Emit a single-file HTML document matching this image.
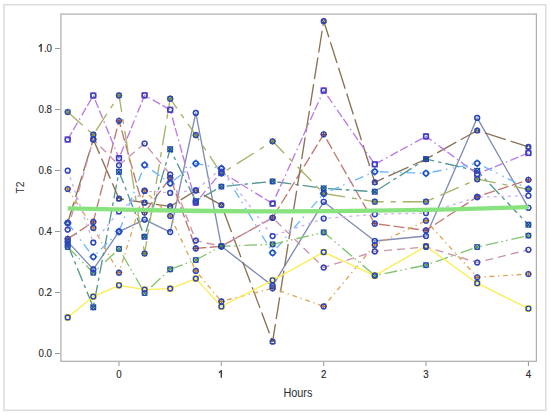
<!DOCTYPE html>
<html><head><meta charset="utf-8"><style>
html,body{margin:0;padding:0;background:#fff;}
body{width:550px;height:415px;position:relative;overflow:hidden;font-family:"Liberation Sans",sans-serif;}
svg text{font-family:"Liberation Sans",sans-serif;}
</style></head><body>
<svg width="550" height="415" viewBox="0 0 550 415" style="position:absolute;left:0;top:0">
<rect x="3.95" y="4.7" width="541.85" height="405.6" fill="#fff" stroke="#dedede" stroke-width="1.6"/>
<rect x="60.9" y="14.1" width="475.5" height="347.2" fill="#fff" stroke="#b0b0b0" stroke-width="1.25"/>
<line x1="55" y1="353.5" x2="60" y2="353.5" stroke="#999" stroke-width="1"/>
<text transform="translate(52,357.4) scale(0.9,1)" text-anchor="end" font-size="10.8" fill="#2a2a2a" stroke="#2a2a2a" stroke-width="0.15">0.0</text>
<line x1="55" y1="292.5" x2="60" y2="292.5" stroke="#999" stroke-width="1"/>
<text transform="translate(52,296.4) scale(0.9,1)" text-anchor="end" font-size="10.8" fill="#2a2a2a" stroke="#2a2a2a" stroke-width="0.15">0.2</text>
<line x1="55" y1="231.5" x2="60" y2="231.5" stroke="#999" stroke-width="1"/>
<text transform="translate(52,235.4) scale(0.9,1)" text-anchor="end" font-size="10.8" fill="#2a2a2a" stroke="#2a2a2a" stroke-width="0.15">0.4</text>
<line x1="55" y1="170.5" x2="60" y2="170.5" stroke="#999" stroke-width="1"/>
<text transform="translate(52,174.4) scale(0.9,1)" text-anchor="end" font-size="10.8" fill="#2a2a2a" stroke="#2a2a2a" stroke-width="0.15">0.6</text>
<line x1="55" y1="109.5" x2="60" y2="109.5" stroke="#999" stroke-width="1"/>
<text transform="translate(52,113.4) scale(0.9,1)" text-anchor="end" font-size="10.8" fill="#2a2a2a" stroke="#2a2a2a" stroke-width="0.15">0.8</text>
<line x1="55" y1="48.5" x2="60" y2="48.5" stroke="#999" stroke-width="1"/>
<text transform="translate(52,52.4) scale(0.9,1)" text-anchor="end" font-size="10.8" fill="#2a2a2a" stroke="#2a2a2a" stroke-width="0.15">.0</text>
<path d="M41.15,44.30V51.75" stroke="#2a2a2a" stroke-width="1.3" fill="none"/><path d="M41.55,44.20L38.85,46.60" stroke="#2a2a2a" stroke-width="1.15" fill="none"/>
<line x1="119.0" y1="361.5" x2="119.0" y2="366" stroke="#999" stroke-width="1"/>
<text transform="translate(119.0,377.7) scale(0.9,1)" text-anchor="middle" font-size="10.8" fill="#2a2a2a" stroke="#2a2a2a" stroke-width="0.15">0</text>
<line x1="221.3" y1="361.5" x2="221.3" y2="366" stroke="#999" stroke-width="1"/>
<path d="M221.25,370.50V377.75" stroke="#2a2a2a" stroke-width="1.3" fill="none"/><path d="M221.65,370.40L218.95,372.80" stroke="#2a2a2a" stroke-width="1.15" fill="none"/>
<line x1="323.7" y1="361.5" x2="323.7" y2="366" stroke="#999" stroke-width="1"/>
<text transform="translate(323.7,377.7) scale(0.9,1)" text-anchor="middle" font-size="10.8" fill="#2a2a2a" stroke="#2a2a2a" stroke-width="0.15">2</text>
<line x1="426.0" y1="361.5" x2="426.0" y2="366" stroke="#999" stroke-width="1"/>
<text transform="translate(426.0,377.7) scale(0.9,1)" text-anchor="middle" font-size="10.8" fill="#2a2a2a" stroke="#2a2a2a" stroke-width="0.15">3</text>
<line x1="528.4" y1="361.5" x2="528.4" y2="366" stroke="#999" stroke-width="1"/>
<text transform="translate(528.4,377.7) scale(0.9,1)" text-anchor="middle" font-size="10.8" fill="#2a2a2a" stroke="#2a2a2a" stroke-width="0.15">4</text>
<text transform="translate(297.9,396.5) scale(0.9,1)" text-anchor="middle" font-size="12.1" fill="#2e2e2e">Hours</text>
<text transform="translate(23.6,187.5) rotate(-90) scale(0.87,1)" text-anchor="middle" font-size="11.8" fill="#2e2e2e">T2</text>
<g fill="none" stroke-width="1.35" stroke-linejoin="round">
<polyline points="67.7,241.6 93.3,269.4 119.0,231.6 144.6,219.6 170.2,232.1 195.8,112.9 221.4,246.3 272.6,285.9 323.7,201.8 374.8,241.0 426.0,236.0 477.2,117.9 528.4,207.8" stroke="#808cb6"/>
<polyline points="67.7,238.9 93.3,221.9 119.0,120.8 144.6,212.5 170.2,177.8 195.8,248.4 221.4,246.3 272.6,217.8 323.7,134.3 374.8,223.7 426.0,230.4 477.2,196.8 528.4,179.8" stroke="#c07971" stroke-dasharray="11 3.5"/>
<polyline points="67.7,244.6 93.3,307.3 119.0,171.8 144.6,236.7 170.2,149.2 195.8,201.0 221.4,186.6 272.6,181.4 323.7,188.3 374.8,191.7 426.0,159.1 477.2,170.8 528.4,224.7" stroke="#529792" stroke-dasharray="14 4 3.5 4"/>
<polyline points="67.7,222.8 93.3,139.4 119.0,198.7 144.6,202.7 170.2,206.4 195.8,190.5 221.4,205.1 272.6,341.7 323.7,21.0 374.8,182.3 426.0,159.1 477.2,130.5 528.4,146.9" stroke="#8b7255" stroke-dasharray="22 5"/>
<polyline points="67.7,139.5 93.3,95.5 119.0,158.2 144.6,95.3 170.2,109.8 195.8,202.6 221.4,172.0 272.6,203.6 323.7,90.5 374.8,164.3 426.0,136.4 477.2,174.0 528.4,153.0" stroke="#bc7ae7" stroke-dasharray="8.5 2.5 8.5 3.5 1.5 3.5"/>
<polyline points="67.7,112.0 93.3,134.7 119.0,95.4 144.6,253.5 170.2,98.7 195.8,135.1 221.4,173.5 272.6,141.3 323.7,193.5 374.8,201.7 426.0,201.7 477.2,179.2 528.4,189.3" stroke="#a8b267" stroke-dasharray="20 7 5 7"/>
<polyline points="67.7,223.0 93.3,256.8 119.0,231.6 144.6,165.0 170.2,183.2 195.8,163.5 221.4,168.5 272.6,252.8 323.7,193.6 374.8,171.6 426.0,173.3 477.2,163.3 528.4,189.0" stroke="#6bb8fc" stroke-dasharray="9 4.5 1.5 5.5 1.5 4.5"/>
<polyline points="67.7,229.6 93.3,139.4 119.0,165.3 144.6,143.5 170.2,174.5 195.8,240.6 221.4,246.3 272.6,217.8 323.7,267.5 374.8,251.4 426.0,247.0 477.2,262.5 528.4,249.8" stroke="#cb93ab" stroke-dasharray="8 5"/>
<polyline points="67.7,189.0 93.3,227.9 119.0,272.7 144.6,190.7 170.2,216.0 195.8,270.9 221.4,301.4 272.6,288.3 323.7,306.4 374.8,245.0 426.0,220.7 477.2,277.3 528.4,274.0" stroke="#e0a352" stroke-dasharray="4.7 3.8 1.3 3.8"/>
<polyline points="67.7,246.9 93.3,272.7 119.0,248.8 144.6,293.0 170.2,269.3 195.8,260.0 221.4,246.3 272.6,244.3 323.7,232.3 374.8,275.6 426.0,265.1 477.2,247.0 528.4,235.6" stroke="#82c46e" stroke-dasharray="12.7 3.3 1.5 3.3 1.5 4"/>
<polyline points="67.7,170.7 93.3,242.6 119.0,211.5 144.6,191.0 170.2,192.9 195.8,190.3 221.4,168.5 272.6,236.1 323.7,218.5 374.8,214.3 426.0,213.1 477.2,197.2 528.4,195.7" stroke="#cbb2f7" stroke-dasharray="3 4"/>
<polyline points="67.7,317.4 93.3,296.6 119.0,285.3 144.6,289.6 170.2,288.6 195.8,278.6 221.4,306.5 272.6,280.3 323.7,252.1 374.8,275.6 426.0,246.2 477.2,283.2 528.4,308.5" stroke="#fbed52"/>
</g>
<g>
<circle cx="67.7" cy="241.6" r="2.6" fill="none" stroke="#445694" stroke-width="1"/>
<circle cx="93.3" cy="269.4" r="2.6" fill="none" stroke="#445694" stroke-width="1"/>
<circle cx="119.0" cy="231.6" r="2.6" fill="none" stroke="#445694" stroke-width="1"/>
<circle cx="144.6" cy="219.6" r="2.6" fill="none" stroke="#445694" stroke-width="1"/>
<circle cx="170.2" cy="232.1" r="2.6" fill="none" stroke="#445694" stroke-width="1"/>
<circle cx="195.8" cy="112.9" r="2.6" fill="none" stroke="#445694" stroke-width="1"/>
<circle cx="221.4" cy="246.3" r="2.6" fill="none" stroke="#445694" stroke-width="1"/>
<circle cx="272.6" cy="285.9" r="2.6" fill="none" stroke="#445694" stroke-width="1"/>
<circle cx="323.7" cy="201.8" r="2.6" fill="none" stroke="#445694" stroke-width="1"/>
<circle cx="374.8" cy="241.0" r="2.6" fill="none" stroke="#445694" stroke-width="1"/>
<circle cx="426.0" cy="236.0" r="2.6" fill="none" stroke="#445694" stroke-width="1"/>
<circle cx="477.2" cy="117.9" r="2.6" fill="none" stroke="#445694" stroke-width="1"/>
<circle cx="528.4" cy="207.8" r="2.6" fill="none" stroke="#445694" stroke-width="1"/>
<path d="M64.4,238.9h6.6M67.7,235.6v6.6" stroke="#A23A2E" stroke-width="1.2" fill="none"/>
<path d="M90.0,221.9h6.6M93.3,218.6v6.6" stroke="#A23A2E" stroke-width="1.2" fill="none"/>
<path d="M115.7,120.8h6.6M119.0,117.5v6.6" stroke="#A23A2E" stroke-width="1.2" fill="none"/>
<path d="M141.3,212.5h6.6M144.6,209.2v6.6" stroke="#A23A2E" stroke-width="1.2" fill="none"/>
<path d="M166.9,177.8h6.6M170.2,174.5v6.6" stroke="#A23A2E" stroke-width="1.2" fill="none"/>
<path d="M192.5,248.4h6.6M195.8,245.1v6.6" stroke="#A23A2E" stroke-width="1.2" fill="none"/>
<path d="M218.1,246.3h6.6M221.4,243.0v6.6" stroke="#A23A2E" stroke-width="1.2" fill="none"/>
<path d="M269.3,217.8h6.6M272.6,214.5v6.6" stroke="#A23A2E" stroke-width="1.2" fill="none"/>
<path d="M320.4,134.3h6.6M323.7,131.0v6.6" stroke="#A23A2E" stroke-width="1.2" fill="none"/>
<path d="M371.5,223.7h6.6M374.8,220.4v6.6" stroke="#A23A2E" stroke-width="1.2" fill="none"/>
<path d="M422.7,230.4h6.6M426.0,227.1v6.6" stroke="#A23A2E" stroke-width="1.2" fill="none"/>
<path d="M473.9,196.8h6.6M477.2,193.5v6.6" stroke="#A23A2E" stroke-width="1.2" fill="none"/>
<path d="M525.1,179.8h6.6M528.4,176.5v6.6" stroke="#A23A2E" stroke-width="1.2" fill="none"/>
<path d="M64.9,241.8l5.6,5.6M64.9,247.4l5.6,-5.6" stroke="#01665E" stroke-width="1.2" fill="none"/>
<path d="M90.5,304.5l5.6,5.6M90.5,310.1l5.6,-5.6" stroke="#01665E" stroke-width="1.2" fill="none"/>
<path d="M116.2,169.0l5.6,5.6M116.2,174.6l5.6,-5.6" stroke="#01665E" stroke-width="1.2" fill="none"/>
<path d="M141.8,233.9l5.6,5.6M141.8,239.5l5.6,-5.6" stroke="#01665E" stroke-width="1.2" fill="none"/>
<path d="M167.4,146.4l5.6,5.6M167.4,152.0l5.6,-5.6" stroke="#01665E" stroke-width="1.2" fill="none"/>
<path d="M193.0,198.2l5.6,5.6M193.0,203.8l5.6,-5.6" stroke="#01665E" stroke-width="1.2" fill="none"/>
<path d="M218.6,183.8l5.6,5.6M218.6,189.4l5.6,-5.6" stroke="#01665E" stroke-width="1.2" fill="none"/>
<path d="M269.8,178.6l5.6,5.6M269.8,184.2l5.6,-5.6" stroke="#01665E" stroke-width="1.2" fill="none"/>
<path d="M320.9,185.5l5.6,5.6M320.9,191.1l5.6,-5.6" stroke="#01665E" stroke-width="1.2" fill="none"/>
<path d="M372.0,188.9l5.6,5.6M372.0,194.5l5.6,-5.6" stroke="#01665E" stroke-width="1.2" fill="none"/>
<path d="M423.2,156.3l5.6,5.6M423.2,161.9l5.6,-5.6" stroke="#01665E" stroke-width="1.2" fill="none"/>
<path d="M474.4,168.0l5.6,5.6M474.4,173.6l5.6,-5.6" stroke="#01665E" stroke-width="1.2" fill="none"/>
<path d="M525.6,221.9l5.6,5.6M525.6,227.5l5.6,-5.6" stroke="#01665E" stroke-width="1.2" fill="none"/>
<path d="M67.7,220.1L70.2,224.7L65.2,224.7Z" stroke="#543005" stroke-width="1" fill="none"/>
<path d="M93.3,136.7L95.8,141.3L90.8,141.3Z" stroke="#543005" stroke-width="1" fill="none"/>
<path d="M119.0,196.0L121.5,200.6L116.5,200.6Z" stroke="#543005" stroke-width="1" fill="none"/>
<path d="M144.6,200.0L147.1,204.6L142.1,204.6Z" stroke="#543005" stroke-width="1" fill="none"/>
<path d="M170.2,203.7L172.7,208.3L167.7,208.3Z" stroke="#543005" stroke-width="1" fill="none"/>
<path d="M195.8,187.8L198.3,192.4L193.3,192.4Z" stroke="#543005" stroke-width="1" fill="none"/>
<path d="M221.4,202.4L223.9,207.0L218.9,207.0Z" stroke="#543005" stroke-width="1" fill="none"/>
<path d="M272.6,339.0L275.1,343.6L270.1,343.6Z" stroke="#543005" stroke-width="1" fill="none"/>
<path d="M323.7,18.3L326.2,22.9L321.2,22.9Z" stroke="#543005" stroke-width="1" fill="none"/>
<path d="M374.8,179.6L377.3,184.2L372.3,184.2Z" stroke="#543005" stroke-width="1" fill="none"/>
<path d="M426.0,156.4L428.5,161.0L423.5,161.0Z" stroke="#543005" stroke-width="1" fill="none"/>
<path d="M477.2,127.8L479.7,132.4L474.7,132.4Z" stroke="#543005" stroke-width="1" fill="none"/>
<path d="M528.4,144.2L530.9,148.8L525.9,148.8Z" stroke="#543005" stroke-width="1" fill="none"/>
<rect x="65.1" y="136.9" width="5.2" height="5.2" stroke="#9D3CDB" stroke-width="1.1" fill="none"/>
<rect x="90.7" y="92.9" width="5.2" height="5.2" stroke="#9D3CDB" stroke-width="1.1" fill="none"/>
<rect x="116.4" y="155.6" width="5.2" height="5.2" stroke="#9D3CDB" stroke-width="1.1" fill="none"/>
<rect x="142.0" y="92.7" width="5.2" height="5.2" stroke="#9D3CDB" stroke-width="1.1" fill="none"/>
<rect x="167.6" y="107.2" width="5.2" height="5.2" stroke="#9D3CDB" stroke-width="1.1" fill="none"/>
<rect x="193.2" y="200.0" width="5.2" height="5.2" stroke="#9D3CDB" stroke-width="1.1" fill="none"/>
<rect x="218.8" y="169.4" width="5.2" height="5.2" stroke="#9D3CDB" stroke-width="1.1" fill="none"/>
<rect x="270.0" y="201.0" width="5.2" height="5.2" stroke="#9D3CDB" stroke-width="1.1" fill="none"/>
<rect x="321.1" y="87.9" width="5.2" height="5.2" stroke="#9D3CDB" stroke-width="1.1" fill="none"/>
<rect x="372.2" y="161.7" width="5.2" height="5.2" stroke="#9D3CDB" stroke-width="1.1" fill="none"/>
<rect x="423.4" y="133.8" width="5.2" height="5.2" stroke="#9D3CDB" stroke-width="1.1" fill="none"/>
<rect x="474.6" y="171.4" width="5.2" height="5.2" stroke="#9D3CDB" stroke-width="1.1" fill="none"/>
<rect x="525.8" y="150.4" width="5.2" height="5.2" stroke="#9D3CDB" stroke-width="1.1" fill="none"/>
<path d="M64.4,112.0h6.6M67.7,108.7v6.6M65.1,109.4l5.3,5.3M65.1,114.6l5.3,-5.3" stroke="#7F8E1F" stroke-width="1" fill="none"/>
<path d="M90.0,134.7h6.6M93.3,131.4v6.6M90.7,132.1l5.3,5.3M90.7,137.3l5.3,-5.3" stroke="#7F8E1F" stroke-width="1" fill="none"/>
<path d="M115.7,95.4h6.6M119.0,92.1v6.6M116.4,92.8l5.3,5.3M116.4,98.0l5.3,-5.3" stroke="#7F8E1F" stroke-width="1" fill="none"/>
<path d="M141.3,253.5h6.6M144.6,250.2v6.6M142.0,250.9l5.3,5.3M142.0,256.1l5.3,-5.3" stroke="#7F8E1F" stroke-width="1" fill="none"/>
<path d="M166.9,98.7h6.6M170.2,95.4v6.6M167.6,96.1l5.3,5.3M167.6,101.3l5.3,-5.3" stroke="#7F8E1F" stroke-width="1" fill="none"/>
<path d="M192.5,135.1h6.6M195.8,131.8v6.6M193.2,132.5l5.3,5.3M193.2,137.7l5.3,-5.3" stroke="#7F8E1F" stroke-width="1" fill="none"/>
<path d="M218.1,173.5h6.6M221.4,170.2v6.6M218.8,170.9l5.3,5.3M218.8,176.1l5.3,-5.3" stroke="#7F8E1F" stroke-width="1" fill="none"/>
<path d="M269.3,141.3h6.6M272.6,138.0v6.6M270.0,138.7l5.3,5.3M270.0,143.9l5.3,-5.3" stroke="#7F8E1F" stroke-width="1" fill="none"/>
<path d="M320.4,193.5h6.6M323.7,190.2v6.6M321.1,190.9l5.3,5.3M321.1,196.1l5.3,-5.3" stroke="#7F8E1F" stroke-width="1" fill="none"/>
<path d="M371.5,201.7h6.6M374.8,198.4v6.6M372.2,199.1l5.3,5.3M372.2,204.3l5.3,-5.3" stroke="#7F8E1F" stroke-width="1" fill="none"/>
<path d="M422.7,201.7h6.6M426.0,198.4v6.6M423.4,199.1l5.3,5.3M423.4,204.3l5.3,-5.3" stroke="#7F8E1F" stroke-width="1" fill="none"/>
<path d="M473.9,179.2h6.6M477.2,175.9v6.6M474.6,176.6l5.3,5.3M474.6,181.8l5.3,-5.3" stroke="#7F8E1F" stroke-width="1" fill="none"/>
<path d="M525.1,189.3h6.6M528.4,186.0v6.6M525.8,186.7l5.3,5.3M525.8,191.9l5.3,-5.3" stroke="#7F8E1F" stroke-width="1" fill="none"/>
<path d="M67.7,219.5L71.2,223.0L67.7,226.5L64.2,223.0Z" stroke="#2597FA" stroke-width="1.1" fill="none"/>
<path d="M93.3,253.3L96.8,256.8L93.3,260.3L89.8,256.8Z" stroke="#2597FA" stroke-width="1.1" fill="none"/>
<path d="M119.0,228.1L122.5,231.6L119.0,235.1L115.5,231.6Z" stroke="#2597FA" stroke-width="1.1" fill="none"/>
<path d="M144.6,161.5L148.1,165.0L144.6,168.5L141.1,165.0Z" stroke="#2597FA" stroke-width="1.1" fill="none"/>
<path d="M170.2,179.7L173.7,183.2L170.2,186.7L166.7,183.2Z" stroke="#2597FA" stroke-width="1.1" fill="none"/>
<path d="M195.8,160.0L199.3,163.5L195.8,167.0L192.3,163.5Z" stroke="#2597FA" stroke-width="1.1" fill="none"/>
<path d="M221.4,165.0L224.9,168.5L221.4,172.0L217.9,168.5Z" stroke="#2597FA" stroke-width="1.1" fill="none"/>
<path d="M272.6,249.3L276.1,252.8L272.6,256.3L269.1,252.8Z" stroke="#2597FA" stroke-width="1.1" fill="none"/>
<path d="M323.7,190.1L327.2,193.6L323.7,197.1L320.2,193.6Z" stroke="#2597FA" stroke-width="1.1" fill="none"/>
<path d="M374.8,168.1L378.3,171.6L374.8,175.1L371.3,171.6Z" stroke="#2597FA" stroke-width="1.1" fill="none"/>
<path d="M426.0,169.8L429.5,173.3L426.0,176.8L422.5,173.3Z" stroke="#2597FA" stroke-width="1.1" fill="none"/>
<path d="M477.2,159.8L480.7,163.3L477.2,166.8L473.7,163.3Z" stroke="#2597FA" stroke-width="1.1" fill="none"/>
<path d="M528.4,185.5L531.9,189.0L528.4,192.5L524.9,189.0Z" stroke="#2597FA" stroke-width="1.1" fill="none"/>
<circle cx="67.7" cy="229.6" r="2.6" fill="none" stroke="#B26084" stroke-width="1"/>
<circle cx="93.3" cy="139.4" r="2.6" fill="none" stroke="#B26084" stroke-width="1"/>
<circle cx="119.0" cy="165.3" r="2.6" fill="none" stroke="#B26084" stroke-width="1"/>
<circle cx="144.6" cy="143.5" r="2.6" fill="none" stroke="#B26084" stroke-width="1"/>
<circle cx="170.2" cy="174.5" r="2.6" fill="none" stroke="#B26084" stroke-width="1"/>
<circle cx="195.8" cy="240.6" r="2.6" fill="none" stroke="#B26084" stroke-width="1"/>
<circle cx="221.4" cy="246.3" r="2.6" fill="none" stroke="#B26084" stroke-width="1"/>
<circle cx="272.6" cy="217.8" r="2.6" fill="none" stroke="#B26084" stroke-width="1"/>
<circle cx="323.7" cy="267.5" r="2.6" fill="none" stroke="#B26084" stroke-width="1"/>
<circle cx="374.8" cy="251.4" r="2.6" fill="none" stroke="#B26084" stroke-width="1"/>
<circle cx="426.0" cy="247.0" r="2.6" fill="none" stroke="#B26084" stroke-width="1"/>
<circle cx="477.2" cy="262.5" r="2.6" fill="none" stroke="#B26084" stroke-width="1"/>
<circle cx="528.4" cy="249.8" r="2.6" fill="none" stroke="#B26084" stroke-width="1"/>
<path d="M64.4,189.0h6.6M67.7,185.7v6.6" stroke="#D17800" stroke-width="1.2" fill="none"/>
<path d="M90.0,227.9h6.6M93.3,224.6v6.6" stroke="#D17800" stroke-width="1.2" fill="none"/>
<path d="M115.7,272.7h6.6M119.0,269.4v6.6" stroke="#D17800" stroke-width="1.2" fill="none"/>
<path d="M141.3,190.7h6.6M144.6,187.4v6.6" stroke="#D17800" stroke-width="1.2" fill="none"/>
<path d="M166.9,216.0h6.6M170.2,212.7v6.6" stroke="#D17800" stroke-width="1.2" fill="none"/>
<path d="M192.5,270.9h6.6M195.8,267.6v6.6" stroke="#D17800" stroke-width="1.2" fill="none"/>
<path d="M218.1,301.4h6.6M221.4,298.1v6.6" stroke="#D17800" stroke-width="1.2" fill="none"/>
<path d="M269.3,288.3h6.6M272.6,285.0v6.6" stroke="#D17800" stroke-width="1.2" fill="none"/>
<path d="M320.4,306.4h6.6M323.7,303.1v6.6" stroke="#D17800" stroke-width="1.2" fill="none"/>
<path d="M371.5,245.0h6.6M374.8,241.7v6.6" stroke="#D17800" stroke-width="1.2" fill="none"/>
<path d="M422.7,220.7h6.6M426.0,217.4v6.6" stroke="#D17800" stroke-width="1.2" fill="none"/>
<path d="M473.9,277.3h6.6M477.2,274.0v6.6" stroke="#D17800" stroke-width="1.2" fill="none"/>
<path d="M525.1,274.0h6.6M528.4,270.7v6.6" stroke="#D17800" stroke-width="1.2" fill="none"/>
<path d="M64.9,244.1l5.6,5.6M64.9,249.7l5.6,-5.6" stroke="#47A82A" stroke-width="1.2" fill="none"/>
<path d="M90.5,269.9l5.6,5.6M90.5,275.5l5.6,-5.6" stroke="#47A82A" stroke-width="1.2" fill="none"/>
<path d="M116.2,246.0l5.6,5.6M116.2,251.6l5.6,-5.6" stroke="#47A82A" stroke-width="1.2" fill="none"/>
<path d="M141.8,290.2l5.6,5.6M141.8,295.8l5.6,-5.6" stroke="#47A82A" stroke-width="1.2" fill="none"/>
<path d="M167.4,266.5l5.6,5.6M167.4,272.1l5.6,-5.6" stroke="#47A82A" stroke-width="1.2" fill="none"/>
<path d="M193.0,257.2l5.6,5.6M193.0,262.8l5.6,-5.6" stroke="#47A82A" stroke-width="1.2" fill="none"/>
<path d="M218.6,243.5l5.6,5.6M218.6,249.1l5.6,-5.6" stroke="#47A82A" stroke-width="1.2" fill="none"/>
<path d="M269.8,241.5l5.6,5.6M269.8,247.1l5.6,-5.6" stroke="#47A82A" stroke-width="1.2" fill="none"/>
<path d="M320.9,229.5l5.6,5.6M320.9,235.1l5.6,-5.6" stroke="#47A82A" stroke-width="1.2" fill="none"/>
<path d="M372.0,272.8l5.6,5.6M372.0,278.4l5.6,-5.6" stroke="#47A82A" stroke-width="1.2" fill="none"/>
<path d="M423.2,262.3l5.6,5.6M423.2,267.9l5.6,-5.6" stroke="#47A82A" stroke-width="1.2" fill="none"/>
<path d="M474.4,244.2l5.6,5.6M474.4,249.8l5.6,-5.6" stroke="#47A82A" stroke-width="1.2" fill="none"/>
<path d="M525.6,232.8l5.6,5.6M525.6,238.4l5.6,-5.6" stroke="#47A82A" stroke-width="1.2" fill="none"/>
<circle cx="67.7" cy="170.7" r="2.6" fill="none" stroke="#B38EF3" stroke-width="1"/>
<circle cx="93.3" cy="242.6" r="2.6" fill="none" stroke="#B38EF3" stroke-width="1"/>
<circle cx="119.0" cy="211.5" r="2.6" fill="none" stroke="#B38EF3" stroke-width="1"/>
<circle cx="144.6" cy="191.0" r="2.6" fill="none" stroke="#B38EF3" stroke-width="1"/>
<circle cx="170.2" cy="192.9" r="2.6" fill="none" stroke="#B38EF3" stroke-width="1"/>
<circle cx="195.8" cy="190.3" r="2.6" fill="none" stroke="#B38EF3" stroke-width="1"/>
<circle cx="221.4" cy="168.5" r="2.6" fill="none" stroke="#B38EF3" stroke-width="1"/>
<circle cx="272.6" cy="236.1" r="2.6" fill="none" stroke="#B38EF3" stroke-width="1"/>
<circle cx="323.7" cy="218.5" r="2.6" fill="none" stroke="#B38EF3" stroke-width="1"/>
<circle cx="374.8" cy="214.3" r="2.6" fill="none" stroke="#B38EF3" stroke-width="1"/>
<circle cx="426.0" cy="213.1" r="2.6" fill="none" stroke="#B38EF3" stroke-width="1"/>
<circle cx="477.2" cy="197.2" r="2.6" fill="none" stroke="#B38EF3" stroke-width="1"/>
<circle cx="528.4" cy="195.7" r="2.6" fill="none" stroke="#B38EF3" stroke-width="1"/>
<rect x="65.1" y="314.8" width="5.2" height="5.2" stroke="#F9E500" stroke-width="1.1" fill="none"/>
<rect x="90.7" y="294.0" width="5.2" height="5.2" stroke="#F9E500" stroke-width="1.1" fill="none"/>
<rect x="116.4" y="282.7" width="5.2" height="5.2" stroke="#F9E500" stroke-width="1.1" fill="none"/>
<rect x="142.0" y="287.0" width="5.2" height="5.2" stroke="#F9E500" stroke-width="1.1" fill="none"/>
<rect x="167.6" y="286.0" width="5.2" height="5.2" stroke="#F9E500" stroke-width="1.1" fill="none"/>
<rect x="193.2" y="276.0" width="5.2" height="5.2" stroke="#F9E500" stroke-width="1.1" fill="none"/>
<rect x="218.8" y="303.9" width="5.2" height="5.2" stroke="#F9E500" stroke-width="1.1" fill="none"/>
<rect x="270.0" y="277.7" width="5.2" height="5.2" stroke="#F9E500" stroke-width="1.1" fill="none"/>
<rect x="321.1" y="249.5" width="5.2" height="5.2" stroke="#F9E500" stroke-width="1.1" fill="none"/>
<rect x="372.2" y="273.0" width="5.2" height="5.2" stroke="#F9E500" stroke-width="1.1" fill="none"/>
<rect x="423.4" y="243.6" width="5.2" height="5.2" stroke="#F9E500" stroke-width="1.1" fill="none"/>
<rect x="474.6" y="280.6" width="5.2" height="5.2" stroke="#F9E500" stroke-width="1.1" fill="none"/>
<rect x="525.8" y="305.9" width="5.2" height="5.2" stroke="#F9E500" stroke-width="1.1" fill="none"/>
</g>
<g fill="none" stroke="#2a46bc" stroke-width="1.4">
<circle cx="67.7" cy="241.6" r="2.4"/>
<circle cx="93.3" cy="269.4" r="2.4"/>
<circle cx="119.0" cy="231.6" r="2.4"/>
<circle cx="144.6" cy="219.6" r="2.4"/>
<circle cx="170.2" cy="232.1" r="2.4"/>
<circle cx="195.8" cy="112.9" r="2.4"/>
<circle cx="221.4" cy="246.3" r="2.4"/>
<circle cx="272.6" cy="285.9" r="2.4"/>
<circle cx="323.7" cy="201.8" r="2.4"/>
<circle cx="374.8" cy="241.0" r="2.4"/>
<circle cx="426.0" cy="236.0" r="2.4"/>
<circle cx="477.2" cy="117.9" r="2.4"/>
<circle cx="528.4" cy="207.8" r="2.4"/>
<circle cx="67.7" cy="238.9" r="2.4"/>
<circle cx="93.3" cy="221.9" r="2.4"/>
<circle cx="119.0" cy="120.8" r="2.4"/>
<circle cx="144.6" cy="212.5" r="2.4"/>
<circle cx="170.2" cy="177.8" r="2.4"/>
<circle cx="195.8" cy="248.4" r="2.4"/>
<circle cx="221.4" cy="246.3" r="2.4"/>
<circle cx="272.6" cy="217.8" r="2.4"/>
<circle cx="323.7" cy="134.3" r="2.4"/>
<circle cx="374.8" cy="223.7" r="2.4"/>
<circle cx="426.0" cy="230.4" r="2.4"/>
<circle cx="477.2" cy="196.8" r="2.4"/>
<circle cx="528.4" cy="179.8" r="2.4"/>
<circle cx="67.7" cy="244.6" r="2.4"/>
<circle cx="93.3" cy="307.3" r="2.4"/>
<circle cx="119.0" cy="171.8" r="2.4"/>
<circle cx="144.6" cy="236.7" r="2.4"/>
<circle cx="170.2" cy="149.2" r="2.4"/>
<circle cx="195.8" cy="201.0" r="2.4"/>
<circle cx="221.4" cy="186.6" r="2.4"/>
<circle cx="272.6" cy="181.4" r="2.4"/>
<circle cx="323.7" cy="188.3" r="2.4"/>
<circle cx="374.8" cy="191.7" r="2.4"/>
<circle cx="426.0" cy="159.1" r="2.4"/>
<circle cx="477.2" cy="170.8" r="2.4"/>
<circle cx="528.4" cy="224.7" r="2.4"/>
<circle cx="67.7" cy="222.8" r="2.4"/>
<circle cx="93.3" cy="139.4" r="2.4"/>
<circle cx="119.0" cy="198.7" r="2.4"/>
<circle cx="144.6" cy="202.7" r="2.4"/>
<circle cx="170.2" cy="206.4" r="2.4"/>
<circle cx="195.8" cy="190.5" r="2.4"/>
<circle cx="221.4" cy="205.1" r="2.4"/>
<circle cx="272.6" cy="341.7" r="2.4"/>
<circle cx="323.7" cy="21.0" r="2.4"/>
<circle cx="374.8" cy="182.3" r="2.4"/>
<circle cx="426.0" cy="159.1" r="2.4"/>
<circle cx="477.2" cy="130.5" r="2.4"/>
<circle cx="528.4" cy="146.9" r="2.4"/>
<circle cx="67.7" cy="139.5" r="2.4"/>
<circle cx="93.3" cy="95.5" r="2.4"/>
<circle cx="119.0" cy="158.2" r="2.4"/>
<circle cx="144.6" cy="95.3" r="2.4"/>
<circle cx="170.2" cy="109.8" r="2.4"/>
<circle cx="195.8" cy="202.6" r="2.4"/>
<circle cx="221.4" cy="172.0" r="2.4"/>
<circle cx="272.6" cy="203.6" r="2.4"/>
<circle cx="323.7" cy="90.5" r="2.4"/>
<circle cx="374.8" cy="164.3" r="2.4"/>
<circle cx="426.0" cy="136.4" r="2.4"/>
<circle cx="477.2" cy="174.0" r="2.4"/>
<circle cx="528.4" cy="153.0" r="2.4"/>
<circle cx="67.7" cy="112.0" r="2.4"/>
<circle cx="93.3" cy="134.7" r="2.4"/>
<circle cx="119.0" cy="95.4" r="2.4"/>
<circle cx="144.6" cy="253.5" r="2.4"/>
<circle cx="170.2" cy="98.7" r="2.4"/>
<circle cx="195.8" cy="135.1" r="2.4"/>
<circle cx="221.4" cy="173.5" r="2.4"/>
<circle cx="272.6" cy="141.3" r="2.4"/>
<circle cx="323.7" cy="193.5" r="2.4"/>
<circle cx="374.8" cy="201.7" r="2.4"/>
<circle cx="426.0" cy="201.7" r="2.4"/>
<circle cx="477.2" cy="179.2" r="2.4"/>
<circle cx="528.4" cy="189.3" r="2.4"/>
<circle cx="67.7" cy="223.0" r="2.4"/>
<circle cx="93.3" cy="256.8" r="2.4"/>
<circle cx="119.0" cy="231.6" r="2.4"/>
<circle cx="144.6" cy="165.0" r="2.4"/>
<circle cx="170.2" cy="183.2" r="2.4"/>
<circle cx="195.8" cy="163.5" r="2.4"/>
<circle cx="221.4" cy="168.5" r="2.4"/>
<circle cx="272.6" cy="252.8" r="2.4"/>
<circle cx="323.7" cy="193.6" r="2.4"/>
<circle cx="374.8" cy="171.6" r="2.4"/>
<circle cx="426.0" cy="173.3" r="2.4"/>
<circle cx="477.2" cy="163.3" r="2.4"/>
<circle cx="528.4" cy="189.0" r="2.4"/>
<circle cx="67.7" cy="229.6" r="2.4"/>
<circle cx="93.3" cy="139.4" r="2.4"/>
<circle cx="119.0" cy="165.3" r="2.4"/>
<circle cx="144.6" cy="143.5" r="2.4"/>
<circle cx="170.2" cy="174.5" r="2.4"/>
<circle cx="195.8" cy="240.6" r="2.4"/>
<circle cx="221.4" cy="246.3" r="2.4"/>
<circle cx="272.6" cy="217.8" r="2.4"/>
<circle cx="323.7" cy="267.5" r="2.4"/>
<circle cx="374.8" cy="251.4" r="2.4"/>
<circle cx="426.0" cy="247.0" r="2.4"/>
<circle cx="477.2" cy="262.5" r="2.4"/>
<circle cx="528.4" cy="249.8" r="2.4"/>
<circle cx="67.7" cy="189.0" r="2.4"/>
<circle cx="93.3" cy="227.9" r="2.4"/>
<circle cx="119.0" cy="272.7" r="2.4"/>
<circle cx="144.6" cy="190.7" r="2.4"/>
<circle cx="170.2" cy="216.0" r="2.4"/>
<circle cx="195.8" cy="270.9" r="2.4"/>
<circle cx="221.4" cy="301.4" r="2.4"/>
<circle cx="272.6" cy="288.3" r="2.4"/>
<circle cx="323.7" cy="306.4" r="2.4"/>
<circle cx="374.8" cy="245.0" r="2.4"/>
<circle cx="426.0" cy="220.7" r="2.4"/>
<circle cx="477.2" cy="277.3" r="2.4"/>
<circle cx="528.4" cy="274.0" r="2.4"/>
<circle cx="67.7" cy="246.9" r="2.4"/>
<circle cx="93.3" cy="272.7" r="2.4"/>
<circle cx="119.0" cy="248.8" r="2.4"/>
<circle cx="144.6" cy="293.0" r="2.4"/>
<circle cx="170.2" cy="269.3" r="2.4"/>
<circle cx="195.8" cy="260.0" r="2.4"/>
<circle cx="221.4" cy="246.3" r="2.4"/>
<circle cx="272.6" cy="244.3" r="2.4"/>
<circle cx="323.7" cy="232.3" r="2.4"/>
<circle cx="374.8" cy="275.6" r="2.4"/>
<circle cx="426.0" cy="265.1" r="2.4"/>
<circle cx="477.2" cy="247.0" r="2.4"/>
<circle cx="528.4" cy="235.6" r="2.4"/>
<circle cx="67.7" cy="170.7" r="2.4"/>
<circle cx="93.3" cy="242.6" r="2.4"/>
<circle cx="119.0" cy="211.5" r="2.4"/>
<circle cx="144.6" cy="191.0" r="2.4"/>
<circle cx="170.2" cy="192.9" r="2.4"/>
<circle cx="195.8" cy="190.3" r="2.4"/>
<circle cx="221.4" cy="168.5" r="2.4"/>
<circle cx="272.6" cy="236.1" r="2.4"/>
<circle cx="323.7" cy="218.5" r="2.4"/>
<circle cx="374.8" cy="214.3" r="2.4"/>
<circle cx="426.0" cy="213.1" r="2.4"/>
<circle cx="477.2" cy="197.2" r="2.4"/>
<circle cx="528.4" cy="195.7" r="2.4"/>
<circle cx="67.7" cy="317.4" r="2.4"/>
<circle cx="93.3" cy="296.6" r="2.4"/>
<circle cx="119.0" cy="285.3" r="2.4"/>
<circle cx="144.6" cy="289.6" r="2.4"/>
<circle cx="170.2" cy="288.6" r="2.4"/>
<circle cx="195.8" cy="278.6" r="2.4"/>
<circle cx="221.4" cy="306.5" r="2.4"/>
<circle cx="272.6" cy="280.3" r="2.4"/>
<circle cx="323.7" cy="252.1" r="2.4"/>
<circle cx="374.8" cy="275.6" r="2.4"/>
<circle cx="426.0" cy="246.2" r="2.4"/>
<circle cx="477.2" cy="283.2" r="2.4"/>
<circle cx="528.4" cy="308.5" r="2.4"/>
</g>
<path d="M67.7,208.46Q298.05,215.02 528.4,207.05" fill="none" stroke="#88E27E" stroke-width="4.2"/>
</svg>
</body></html>
